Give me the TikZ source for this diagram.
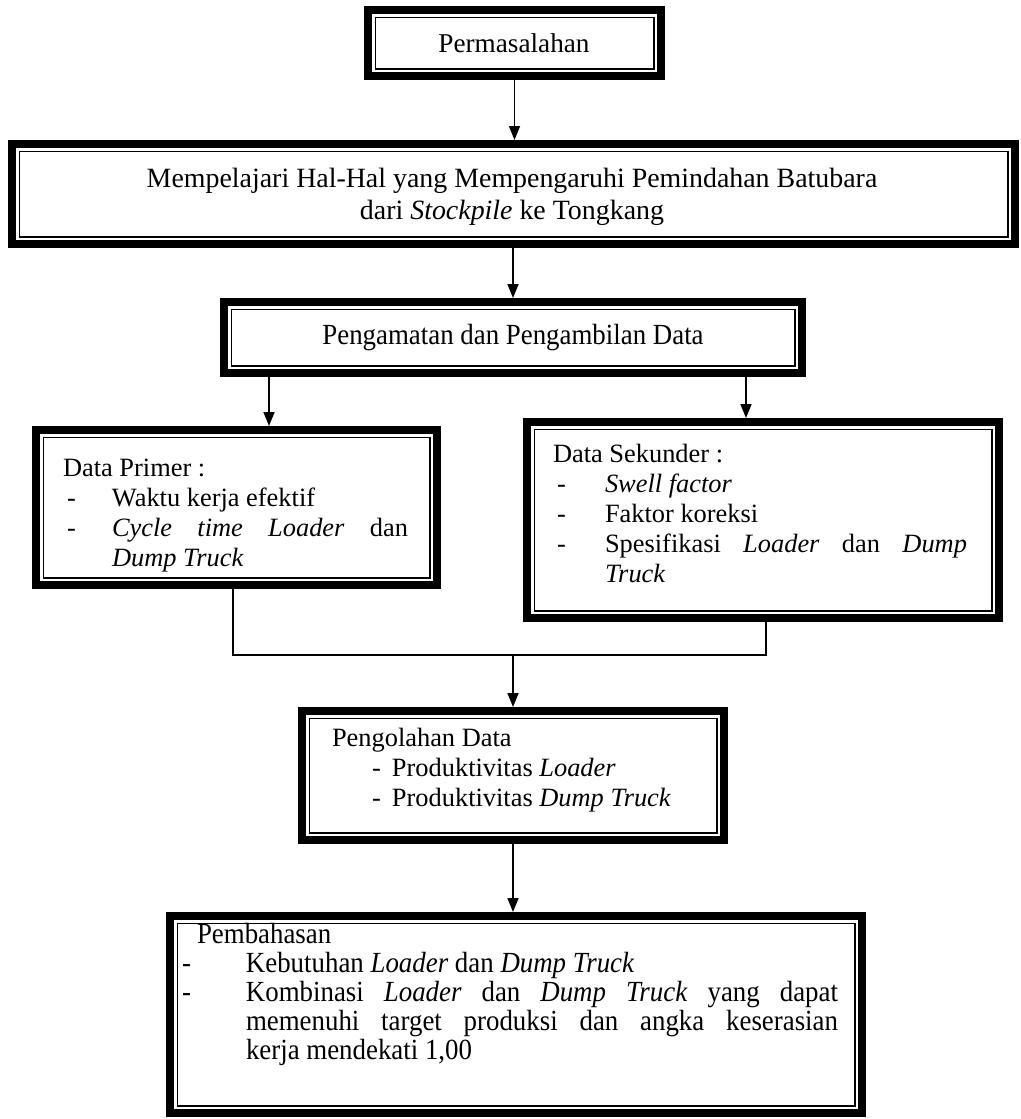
\documentclass[tikz,border=0pt]{standalone}
\usepackage{fontspec}
\setmainfont{Liberation Serif}
\newfontfamily\narrowfont[FakeStretch=0.92]{Liberation Serif}
\usetikzlibrary{arrows.meta,calc}

\tikzset{
  dblbox/.style={draw=black, line width=4pt, inner sep=0pt, outer sep=2pt, rectangle},
  innerline/.style={draw=black, line width=0.75pt},
  conn/.style={draw=black, line width=0.8pt},
  arr/.style={conn, -{Triangle[length=7pt,width=5.5pt]}},
  txt/.style={inner sep=0pt, outer sep=0pt, font=\fontsize{13.2}{15}\selectfont},
}

% #1 name, #2 x1, #3 y1, #4 x2, #5 y2 (outer edges, pixel units)
\newcommand\dfbox[5]{%
  \node[dblbox, minimum width={(#4-#2-8)*0.5pt}, minimum height={(#5-#3-8)*0.5pt}]
     (#1) at ({(#2+#4)/2},{(#3+#5)/2}) {};
  \draw[innerline] ($(#1.north west)+(11.25,11.25)$) rectangle ($(#1.south east)+(-11.25,-11.25)$);
}
\newcommand\dsh[2]{\makebox[#1][l]{\hspace{#2}-}}

\begin{document}
\begin{tikzpicture}[x=0.5pt,y=-0.5pt]
\path[use as bounding box] (0,0) rectangle (1021,1119);

\dfbox{b1}{364}{6}{665}{80}
\dfbox{b2}{8}{140}{1019}{248}
\dfbox{b3}{220}{298}{806}{377}
\dfbox{b4}{32}{426}{441}{589}
\dfbox{b5}{523}{418}{1003}{622}
\dfbox{b6}{298}{707}{728}{844}
\dfbox{b7}{166}{912}{866}{1117}

\node[txt, anchor=base, font=\fontsize{13.6}{15}\selectfont] (t1) at (514,53) {Permasalahan};

\node[txt, anchor=north, align=center, font=\fontsize{13.95}{16}\selectfont] (t2) at (512,165)
  {\strut Mempelajari Hal-Hal yang Mempengaruhi Pemindahan Batubara\\
   dari \textit{Stockpile} ke Tongkang};

\node[txt, anchor=base, font=\narrowfont\fontsize{14.6}{15}\selectfont] (t3) at (513,344) {Pengamatan dan Pengambilan Data};

\node[txt, anchor=north west, align=left] (t4) at (63,455)
  {\strut Data Primer :\\
   \dsh{24.5pt}{2pt}Waktu kerja efektif\\
   \dsh{24.5pt}{2pt}\makebox[148pt][s]{\textit{Cycle time Loader} dan}\\
   \hspace*{24.5pt}\textit{Dump Truck}};

\node[txt, anchor=north west, align=left] (t5) at (553,441)
  {\strut Data Sekunder :\\
   \dsh{26pt}{2pt}\textit{Swell factor}\\
   \dsh{26pt}{2pt}Faktor koreksi\\
   \dsh{26pt}{2pt}\makebox[181pt][s]{Spesifikasi \textit{Loader} dan \textit{Dump}}\\
   \hspace*{26pt}\textit{Truck}};

\node[txt, anchor=north west, align=left] (t6) at (332,725)
  {\strut Pengolahan Data\\
   \dsh{30pt}{20pt}Produktivitas \textit{Loader}\\
   \dsh{30pt}{20pt}Produktivitas \textit{Dump Truck}};

\node[txt, anchor=north west, align=left, font=\narrowfont\fontsize{14.6}{14.5}\selectfont] (t7) at (197,923.5)
  {\strut Pembahasan\\
   \dsh{24.5pt}{-7.5pt}Kebutuhan \textit{Loader} dan \textit{Dump Truck}\\
   \dsh{24.5pt}{-7.5pt}\makebox[296pt][s]{Kombinasi \textit{Loader} dan \textit{Dump Truck} yang dapat}\\
   \hspace*{24.5pt}\makebox[296pt][s]{memenuhi target produksi dan angka keserasian}\\
   \hspace*{24.5pt}kerja mendekati 1,00};

\coordinate (jn) at (513,655);

\draw[arr] (b1.south) -- (b1.south |- b2.north);
\draw[arr] (b3.north |- b2.south) -- (b3.north);
\draw[arr] ([xshift=16.25pt]b4.north |- b3.south) -- ([xshift=16.25pt]b4.north);
\draw[arr] ([xshift=-8.5pt]b5.north |- b3.south) -- ([xshift=-8.5pt]b5.north);
\draw[conn] ([xshift=-1.75pt]b4.south) -- ([xshift=-1.75pt]b4.south |- jn)
   -- ([xshift=1.5pt]b5.south |- jn) -- ([xshift=1.5pt]b5.south);
\draw[arr] (jn) -- (b6.north);
\draw[arr] (b6.south) -- (b6.south |- b7.north);
\end{tikzpicture}
\end{document}
